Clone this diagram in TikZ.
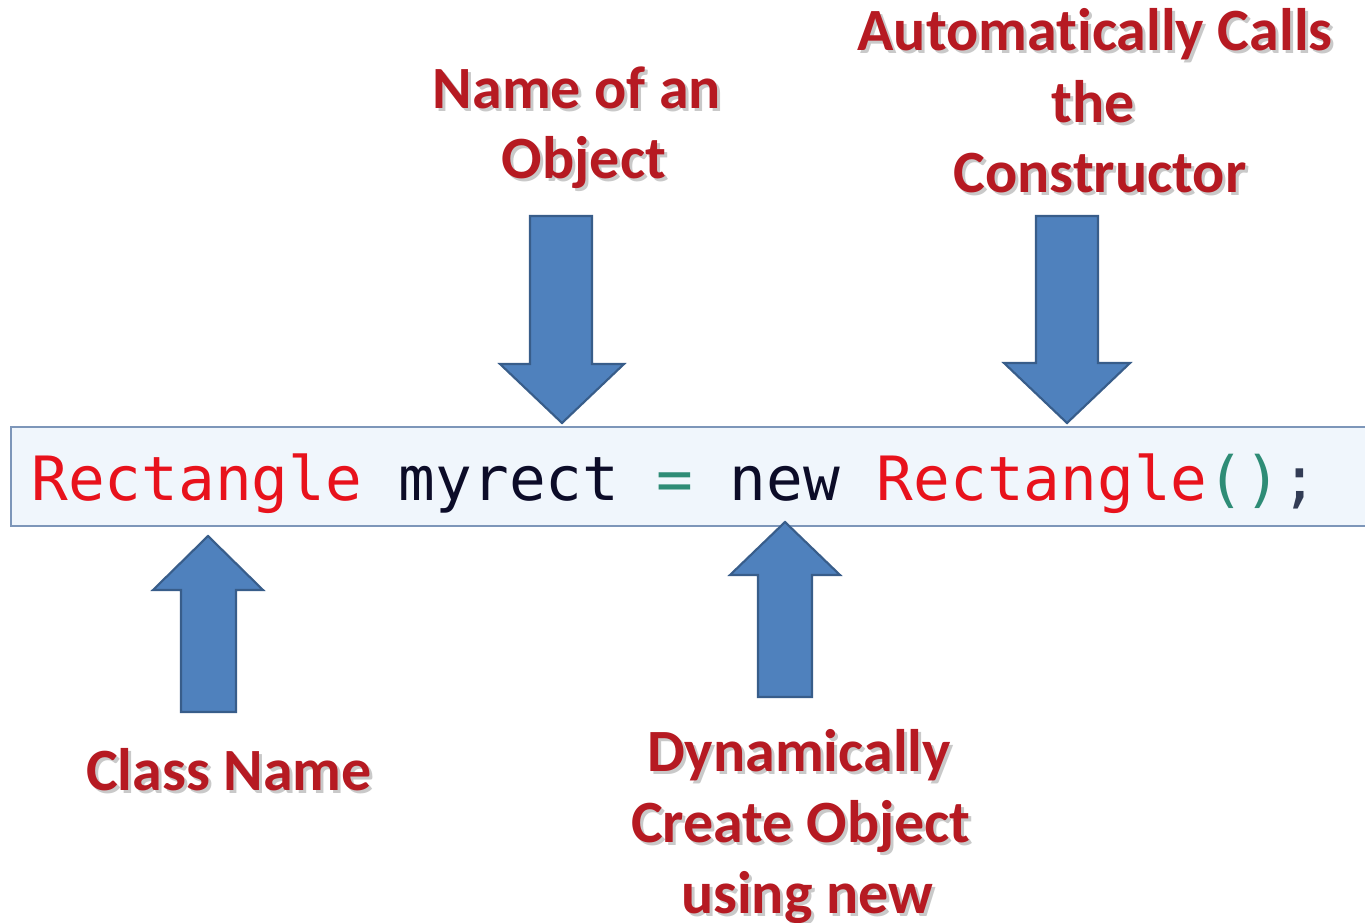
\documentclass[tikz,border=0pt]{standalone}
\usepackage{fontspec}
\newfontfamily\labfont[Ligatures=NoCommon]{Carlito}
\newfontfamily\codefont{DejaVu Sans Mono}
\definecolor{labred}{RGB}{182,26,34}
\definecolor{labshade}{RGB}{120,120,120}
\definecolor{codered}{RGB}{232,18,28}
\definecolor{codeblk}{RGB}{12,12,40}
\definecolor{codeteal}{RGB}{46,140,118}
\definecolor{codesemi}{RGB}{50,60,85}
\definecolor{boxfill}{RGB}{240,246,252}
\definecolor{boxline}{RGB}{125,150,185}
\definecolor{arrfill}{RGB}{79,129,189}
\definecolor{arrline}{RGB}{56,93,138}
\tikzset{
  labtext/.style={inner sep=0pt, anchor=base, text=labred, font=\labfont\bfseries\fontsize{45}{52}\selectfont},
  labshadow/.style={labtext, text=labshade, opacity=0.4},
  blockarrow/.style={fill=arrfill, draw=arrline, line width=1.6pt, line join=miter},
  codebox/.style={fill=boxfill, draw=boxline, line width=1.5pt},
  codetext/.style={inner sep=0pt, anchor=base west, font=\codefont\fontsize{45.8}{50}\selectfont}
}
\newcommand{\lab}[4]{%
  \node[labshadow] at ({#2+3},{#3+3}) {#4};
  \node[labtext] (#1) at (#2,#3) {#4};}
\begin{document}
\begin{tikzpicture}[x=0.75pt,y=-0.75pt]
\useasboundingbox (0,0) rectangle (1365,922);
\fill[white] (0,0) rectangle (1365,922);
% code box
\draw[codebox] (11,427) rectangle (1380,526);
\node[codetext] (code) at (31,500) {\textcolor{codered}{Rectangle} \textcolor{codeblk}{myrect} \textcolor{codeteal}{=} \textcolor{codeblk}{new} \textcolor{codered}{Rectangle}\textcolor{codeteal}{()}\textcolor{codesemi}{;}};
% down arrow: name of object
\coordinate (tipA) at (562,423);
\draw[blockarrow] (530,216) -- (592,216) -- (592,364) -- (624,364) -- (tipA) -- (500,364) -- (530,364) -- cycle;
% down arrow: constructor
\coordinate (tipB) at (1067,423);
\draw[blockarrow] (1036,216) -- (1098,216) -- (1098,363) -- (1130,363) -- (tipB) -- (1004,363) -- (1036,363) -- cycle;
% up arrow: class name
\coordinate (tipC) at (208,536);
\draw[blockarrow] (181,712) -- (236,712) -- (236,590) -- (263,590) -- (tipC) -- (153,590) -- (181,590) -- cycle;
% up arrow: new
\coordinate (tipD) at (785,522);
\draw[blockarrow] (758,697) -- (812,697) -- (812,575) -- (840,575) -- (tipD) -- (730,575) -- (758,575) -- cycle;
% labels
\lab{nameA}{577}{108}{Name of an}
\lab{nameB}{584}{178}{Object}
\lab{autoA}{1095}{50}{Automat\kern0pt ically Calls}
\lab{autoB}{1093}{122}{the}
\lab{autoC}{1100}{192}{Constructor}
\lab{cls}{229}{790}{Class Name}
\lab{dynA}{799}{771}{Dynamically}
\lab{dynB}{801}{842}{Create Object}
\lab{dynC}{807}{913}{using new}
\end{tikzpicture}
\end{document}
